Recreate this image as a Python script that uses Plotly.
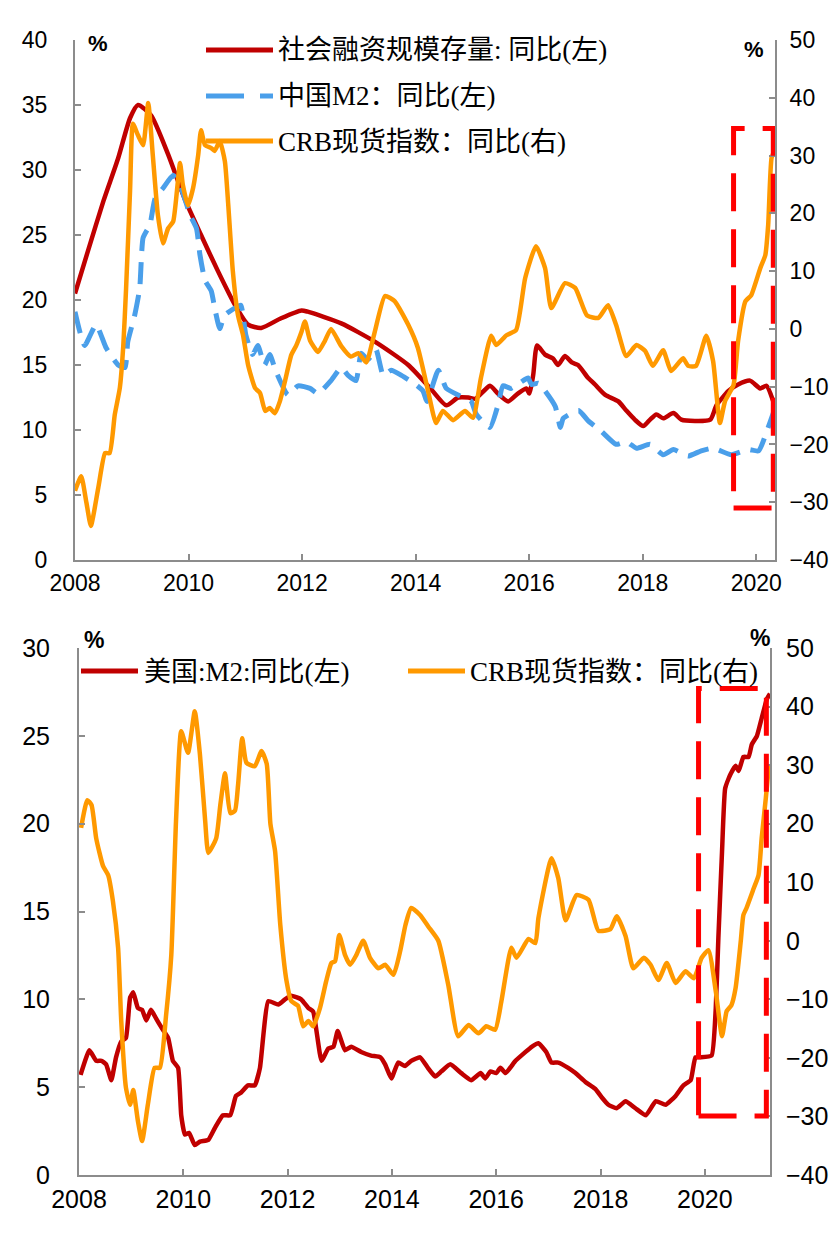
import plotly.graph_objects as go

W, H = 840, 1233

# ---------------- Top chart data ----------------
tsf_x = [2008.0, 2008.23, 2008.5, 2008.76, 2008.97, 2009.11, 2009.34, 2009.64, 2009.93, 2010.22, 2010.52,
         2010.82, 2011.05, 2011.28, 2011.63, 2011.99, 2012.1, 2012.69, 2013.28, 2013.87, 2014.28, 2014.54,
         2014.75, 2014.93, 2015.05, 2015.2, 2015.31, 2015.45, 2015.63, 2015.8, 2015.95, 2016.0, 2016.07,
         2016.14, 2016.28, 2016.42, 2016.51, 2016.63, 2016.75, 2016.86, 2017.04, 2017.16, 2017.34, 2017.57,
         2017.71, 2017.86, 2018.01, 2018.13, 2018.24, 2018.36, 2018.54, 2018.68, 2018.92, 2019.19, 2019.3,
         2019.51, 2019.68, 2019.89, 2020.07, 2020.18, 2020.3]
tsf_y = [20.5, 23.8, 27.6, 30.9, 34.0, 35.0, 34.2, 31.2, 27.8, 25.0, 22.2,
         19.6, 18.1, 17.85, 18.6, 19.2, 19.1, 18.2, 16.8, 15.0, 13.1, 11.9,
         12.5, 12.5, 12.4, 13.0, 13.4, 12.8, 12.2, 12.8, 13.2, 12.8, 14.2,
         16.5, 15.8, 15.5, 15.0, 15.7, 15.2, 15.0, 14.0, 13.5, 12.7, 12.2,
         11.5, 10.8, 10.3, 10.8, 11.2, 10.9, 11.3, 10.8, 10.7, 10.8, 11.9,
         13.0, 13.5, 13.8, 13.2, 13.4, 12.2]

cm2_x = [2008.0, 2008.17, 2008.37, 2008.55, 2008.76, 2008.88, 2008.93, 2009.05, 2009.14, 2009.2, 2009.32,
         2009.41, 2009.55, 2009.73, 2009.87, 2010.03, 2010.14, 2010.2, 2010.29, 2010.4, 2010.46, 2010.55,
         2010.63, 2010.82, 2010.92, 2011.01, 2011.13, 2011.22, 2011.34, 2011.43, 2011.54, 2011.75, 2011.93,
         2012.14, 2012.28, 2012.51, 2012.69, 2012.81, 2012.95, 2013.04, 2013.16, 2013.3, 2013.43, 2013.57,
         2013.75, 2014.0, 2014.13, 2014.2, 2014.4, 2014.54, 2014.84, 2014.98, 2015.07, 2015.31, 2015.45,
         2015.54, 2015.68, 2015.98, 2016.04, 2016.16, 2016.28, 2016.46, 2016.55, 2016.6, 2016.87, 2017.04,
         2017.27, 2017.53, 2017.71, 2017.89, 2018.13, 2018.36, 2018.54, 2018.8, 2019.03, 2019.24, 2019.56,
         2019.86, 2020.04, 2020.21, 2020.3]
cm2_y = [19.1, 16.5, 18.1, 16.3, 15.0, 14.8, 16.8, 18.8, 20.9, 24.8, 25.8,
         27.8, 28.6, 29.6, 28.6, 26.5, 25.5, 23.5, 21.5, 20.7, 19.4, 17.8,
         18.8, 19.4, 19.6, 17.3, 15.8, 16.5, 15.0, 15.8, 14.5, 12.7, 13.4,
         13.2, 12.8, 13.8, 14.8, 14.2, 13.8, 15.9, 15.4, 16.2, 14.2, 14.6,
         14.2, 13.5, 13.0, 12.2, 14.6, 13.2, 12.5, 12.2, 11.2, 10.2, 11.9,
         13.4, 13.2, 14.0, 13.5, 13.6, 13.0, 11.8, 10.2, 10.9, 11.5, 10.7,
         9.9, 8.9, 9.1, 8.6, 8.9, 8.1, 8.5, 8.0, 8.4, 8.6, 8.1,
         8.5, 8.4, 10.2, 11.3]

crb1_x = [2008.0, 2008.11, 2008.2, 2008.28, 2008.41, 2008.53, 2008.61, 2008.7, 2008.79, 2008.85, 2008.9,
          2008.97, 2009.02, 2009.11, 2009.2, 2009.29, 2009.37, 2009.46, 2009.55, 2009.64, 2009.73, 2009.85,
          2009.9, 2009.99, 2010.08, 2010.17, 2010.22, 2010.29, 2010.4, 2010.46, 2010.55, 2010.64, 2010.7,
          2010.78, 2010.87, 2010.96, 2011.05, 2011.17, 2011.26, 2011.35, 2011.43, 2011.52, 2011.61, 2011.7,
          2011.81, 2011.9, 2011.99, 2012.05, 2012.14, 2012.28, 2012.4, 2012.51, 2012.69, 2012.86, 2012.99,
          2013.13, 2013.28, 2013.46, 2013.63, 2013.87, 2014.04, 2014.22, 2014.36, 2014.48, 2014.66, 2014.87,
          2015.01, 2015.15, 2015.33, 2015.42, 2015.6, 2015.77, 2015.93, 2016.12, 2016.28, 2016.39, 2016.63,
          2016.81, 2017.02, 2017.22, 2017.39, 2017.53, 2017.71, 2017.89, 2018.04, 2018.18, 2018.36, 2018.5,
          2018.71, 2018.8, 2018.94, 2019.12, 2019.24, 2019.36, 2019.45, 2019.6, 2019.68, 2019.81, 2019.91,
          2020.07, 2020.16, 2020.21, 2020.27, 2020.33]
crb1_y = [-28.0, -25.5, -30.0, -34.1, -27.5, -21.5, -21.5, -14.9, -10.2, -3.0, 7.0,
          24.0, 35.5, 33.5, 31.8, 39.1, 30.1, 19.7, 14.8, 17.4, 18.6, 28.7,
          24.9, 21.4, 24.4, 30.1, 34.4, 31.8, 31.3, 30.8, 32.5, 29.0, 21.4,
          10.0, 2.4, -1.1, -6.3, -10.2, -11.1, -14.2, -13.7, -14.6, -12.5, -9.0,
          -4.5, -2.8, -0.5, 1.3, -2.0, -4.0, -2.1, 0.0, -3.0, -4.8, -4.2,
          -5.8, -0.5, 5.7, 4.8, 0.7, -3.3, -10.8, -16.3, -14.2, -15.8, -14.2,
          -15.4, -8.5, -1.2, -2.8, -1.1, -0.2, 8.8, 14.3, 10.5, 3.6, 7.9,
          7.1, 2.3, 1.9, 4.1, 0.7, -4.7, -2.8, -3.8, -6.4, -3.7, -7.3,
          -5.1, -6.4, -6.4, -1.2, -5.6, -16.3, -12.5, -9.7, -2.1, 4.8, 5.8,
          10.5, 12.8, 18.0, 29.6, 31.0]

# ---------------- Bottom chart data ----------------
usm2_x = [2008.03, 2008.2, 2008.33, 2008.43, 2008.52, 2008.62, 2008.71, 2008.81, 2008.9, 2008.98, 2009.04,
          2009.13, 2009.21, 2009.29, 2009.38, 2009.48, 2009.58, 2009.71, 2009.8, 2009.9, 2009.96, 2010.03,
          2010.11, 2010.22, 2010.32, 2010.48, 2010.61, 2010.76, 2010.9, 2011.01, 2011.11, 2011.24, 2011.37,
          2011.47, 2011.63, 2011.82, 2011.95, 2012.07, 2012.26, 2012.4, 2012.49, 2012.65, 2012.78, 2012.88,
          2012.96, 2013.1, 2013.22, 2013.41, 2013.6, 2013.78, 2013.87, 2013.99, 2014.12, 2014.25, 2014.37,
          2014.54, 2014.69, 2014.83, 2014.95, 2015.12, 2015.33, 2015.52, 2015.7, 2015.79, 2015.89, 2016.0,
          2016.08, 2016.18, 2016.37, 2016.56, 2016.68, 2016.81, 2016.96, 2017.06, 2017.19, 2017.38, 2017.52,
          2017.71, 2017.9, 2018.03, 2018.15, 2018.31, 2018.48, 2018.67, 2018.87, 2019.06, 2019.25, 2019.44,
          2019.59, 2019.73, 2019.82, 2019.92, 2020.13, 2020.21, 2020.26, 2020.33, 2020.39, 2020.49, 2020.59,
          2020.65, 2020.74, 2020.84, 2020.9, 2021.0, 2021.09, 2021.19, 2021.25]
usm2_y = [5.7, 7.1, 6.5, 6.5, 6.3, 5.4, 6.7, 7.6, 7.8, 10.1, 10.4,
          9.5, 9.4, 8.8, 9.4, 8.9, 8.4, 7.8, 6.5, 6.1, 3.4, 2.3,
          2.4, 1.7, 1.9, 2.0, 2.7, 3.4, 3.4, 4.5, 4.7, 5.1, 5.1,
          6.1, 9.9, 9.7, 10.0, 10.2, 10.0, 9.5, 9.3, 6.5, 7.2, 7.3,
          8.2, 7.1, 7.3, 7.0, 6.8, 6.7, 6.3, 5.5, 6.4, 6.2, 6.5,
          6.7, 6.1, 5.6, 5.9, 6.3, 5.8, 5.4, 5.8, 5.5, 5.9, 5.8,
          6.1, 5.8, 6.5, 7.0, 7.3, 7.5, 7.0, 6.4, 6.4, 6.1, 5.8,
          5.3, 4.9, 4.4, 4.0, 3.8, 4.2, 3.8, 3.4, 4.2, 4.0, 4.5,
          5.1, 5.4, 6.7, 6.7, 6.8, 9.5, 13.5, 18.4, 22.0, 22.8, 23.3,
          23.0, 23.8, 23.8, 24.5, 25.0, 26.0, 27.1, 27.4]

crb2_x = [2008.04, 2008.16, 2008.24, 2008.33, 2008.46, 2008.56, 2008.65, 2008.75, 2008.81, 2008.9, 2008.98,
          2009.04, 2009.13, 2009.21, 2009.32, 2009.45, 2009.55, 2009.67, 2009.77, 2009.86, 2009.96, 2010.09,
          2010.22, 2010.32, 2010.42, 2010.48, 2010.63, 2010.71, 2010.8, 2010.9, 2010.99, 2011.05, 2011.13,
          2011.21, 2011.37, 2011.5, 2011.6, 2011.67, 2011.76, 2011.86, 2011.98, 2012.07, 2012.2, 2012.3,
          2012.4, 2012.49, 2012.62, 2012.74, 2012.84, 2012.91, 2012.99, 2013.1, 2013.2, 2013.32, 2013.45,
          2013.58, 2013.74, 2013.87, 2014.03, 2014.16, 2014.26, 2014.37, 2014.54, 2014.7, 2014.89, 2015.08,
          2015.27, 2015.47, 2015.66, 2015.81, 2015.98, 2016.1, 2016.29, 2016.39, 2016.62, 2016.75, 2016.81,
          2017.06, 2017.19, 2017.33, 2017.54, 2017.77, 2017.96, 2018.19, 2018.31, 2018.48, 2018.63, 2018.83,
          2018.96, 2019.11, 2019.27, 2019.44, 2019.63, 2019.79, 2019.94, 2020.07, 2020.21, 2020.33, 2020.42,
          2020.51, 2020.59, 2020.69, 2020.74, 2020.8, 2020.94, 2021.03, 2021.09, 2021.17, 2021.23]
crb2_y = [19.3, 24.0, 23.2, 17.5, 12.8, 11.2, 6.8, -1.2, -13.7, -25.1, -28.0,
          -25.5, -30.8, -34.2, -28.0, -21.7, -21.7, -12.7, -2.4, 20.4, 35.8, 32.1,
          39.2, 31.7, 20.4, 15.0, 17.5, 23.2, 28.6, 21.8, 22.2, 26.6, 34.6,
          30.4, 29.8, 32.4, 30.2, 20.0, 15.3, 2.7, -6.9, -10.3, -11.1, -14.6,
          -13.7, -14.6, -11.5, -6.9, -3.8, -3.5, 1.0, -2.4, -4.1, -2.4, 0.0,
          -2.9, -4.7, -4.1, -5.8, -1.7, 2.7, 5.6, 4.4, 2.4, 0.0, -7.5,
          -16.3, -14.4, -15.8, -14.6, -15.2, -10.3, -1.2, -2.9, 0.3, -0.4, 3.9,
          14.1, 10.7, 3.5, 7.8, 7.0, 1.7, 2.0, 4.2, 0.8, -4.7, -2.9,
          -4.1, -6.7, -3.8, -7.2, -5.2, -6.4, -2.9, -1.6, -8.6, -16.3, -12.0,
          -11.0, -8.1, 0.0, 4.4, 5.6, 9.0, 11.2, 17.5, 24.4, 30.0]

year_ticks = [2008, 2010, 2012, 2014, 2016, 2018, 2020]
top_left_ticks = [0, 5, 10, 15, 20, 25, 30, 35, 40]
bot_left_ticks = [0, 5, 10, 15, 20, 25, 30]
right_ticks = [-40, -30, -20, -10, 0, 10, 20, 30, 40, 50]

RED = "#C00000"
ORANGE = "#FF9900"
BLUE = "#4A9FEA"
AXC = "#8C8C8C"
BOXRED = "#FF0000"

fig = go.Figure()
fig.add_trace(go.Scatter(x=tsf_x, y=tsf_y, mode="lines", xaxis="x", yaxis="y",
                         line=dict(color=RED, width=4.5, shape="spline", smoothing=0.6)))
fig.add_trace(go.Scatter(x=cm2_x, y=cm2_y, mode="lines", xaxis="x", yaxis="y",
                         line=dict(color=BLUE, width=5, dash="22px,11px", shape="spline", smoothing=0.5)))
fig.add_trace(go.Scatter(x=crb1_x, y=crb1_y, mode="lines", xaxis="x", yaxis="y2",
                         line=dict(color=ORANGE, width=4.5, shape="spline", smoothing=0.5)))
fig.add_trace(go.Scatter(x=usm2_x, y=usm2_y, mode="lines", xaxis="x2", yaxis="y3",
                         line=dict(color=RED, width=4.5, shape="spline", smoothing=0.4)))
fig.add_trace(go.Scatter(x=crb2_x, y=crb2_y, mode="lines", xaxis="x2", yaxis="y4",
                         line=dict(color=ORANGE, width=4.5, shape="spline", smoothing=0.5)))

NUMFONT = "Liberation Sans, Arial, sans-serif"
CJK = "Liberation Serif, Noto Sans CJK SC"


def axis_common(size):
    return dict(showgrid=False, zeroline=False, showline=True, linecolor=AXC, linewidth=2,
                ticks="inside", ticklen=6, tickwidth=2, tickcolor=AXC, automargin=False,
                tickfont=dict(family=NUMFONT, size=size, color="#000"))


top_x_dom = [67 / W, 767 / W]
top_y_dom = [1 - 552 / H, 1 - 32 / H]
bot_x_dom = [71 / W, 762 / W]
bot_y_dom = [1 - 1167 / H, 1 - 640 / H]

fig.update_layout(
    width=W, height=H, margin=dict(l=0, r=0, t=0, b=0, autoexpand=False),
    paper_bgcolor="white", plot_bgcolor="white", showlegend=False,
    xaxis=dict(domain=top_x_dom, anchor="y", range=[2008, 2020.33], tickvals=year_ticks,
               ticklabelstandoff=1, **axis_common(23)),
    yaxis=dict(domain=top_y_dom, anchor="x", range=[0, 40], tickvals=top_left_ticks,
               ticklabelstandoff=21, **axis_common(23)),
    yaxis2=dict(overlaying="y", side="right", anchor="x", range=[-40, 50], tickvals=right_ticks,
                ticklabelstandoff=8, **axis_common(23)),
    xaxis2=dict(domain=bot_x_dom, anchor="y3", range=[2008, 2021.25], tickvals=year_ticks,
                ticklabelstandoff=1, **axis_common(25)),
    yaxis3=dict(domain=bot_y_dom, anchor="x2", range=[0, 30], tickvals=bot_left_ticks,
                ticklabelstandoff=22, **axis_common(25)),
    yaxis4=dict(overlaying="y3", side="right", anchor="x2", range=[-40, 50], tickvals=right_ticks,
                ticklabelstandoff=9, **axis_common(25)),
)

shapes = []
# highlight boxes (data coordinates)
shapes.append(dict(type="rect", xref="x", yref="y", x0=2019.6, x1=2020.3, y0=4.0, y1=33.2,
                   line=dict(color=BOXRED, width=5, dash="38px,18px")))
shapes.append(dict(type="rect", xref="x2", yref="y3", x0=2019.88, x1=2021.18, y0=3.36, y1=27.7,
                   line=dict(color=BOXRED, width=5, dash="38px,18px")))


def px(x):
    return x / W


def py(y):
    return 1 - y / H


# legend lines (paper coords)
shapes.append(dict(type="line", xref="paper", yref="paper", x0=px(198), x1=px(265), y0=py(42), y1=py(42),
                   line=dict(color=RED, width=5)))
shapes.append(dict(type="line", xref="paper", yref="paper", x0=px(198), x1=px(265), y0=py(88), y1=py(88),
                   line=dict(color=BLUE, width=5, dash="38px,16px")))
shapes.append(dict(type="line", xref="paper", yref="paper", x0=px(198), x1=px(265), y0=py(133), y1=py(133),
                   line=dict(color=ORANGE, width=5)))
shapes.append(dict(type="line", xref="paper", yref="paper", x0=px(73), x1=px(130), y0=py(663), y1=py(663),
                   line=dict(color=RED, width=5)))
shapes.append(dict(type="line", xref="paper", yref="paper", x0=px(400), x1=px(457), y0=py(663), y1=py(663),
                   line=dict(color=ORANGE, width=5)))
fig.update_layout(shapes=shapes)

LEGSIZE = 27
ann = []


def text(x, y, s, font, size, bold=False, xanchor="left"):
    ann.append(dict(x=px(x), y=py(y), xref="paper", yref="paper", text=("<b>%s</b>" % s) if bold else s,
                    showarrow=False, xanchor=xanchor, yanchor="middle",
                    font=dict(family=font, size=size, color="#000")))


text(268, 42, "社会融资规模存量: 同比(左)", CJK, LEGSIZE)
text(268, 88, "中国M2：同比(左)", CJK, LEGSIZE)
text(268, 134, "CRB现货指数：同比(右)", CJK, LEGSIZE)
text(134, 664, "美国:M2:同比(左)", CJK, LEGSIZE)
text(460, 664, "CRB现货指数：同比(右)", CJK, LEGSIZE)

text(90, 36, "%", NUMFONT, 22, bold=True, xanchor="center")
text(746, 41, "%", NUMFONT, 22, bold=True, xanchor="center")
text(86, 632, "%", NUMFONT, 23, bold=True, xanchor="center")
text(752, 630, "%", NUMFONT, 23, bold=True, xanchor="center")
fig.update_layout(annotations=ann)

fig.write_html("out.html")
